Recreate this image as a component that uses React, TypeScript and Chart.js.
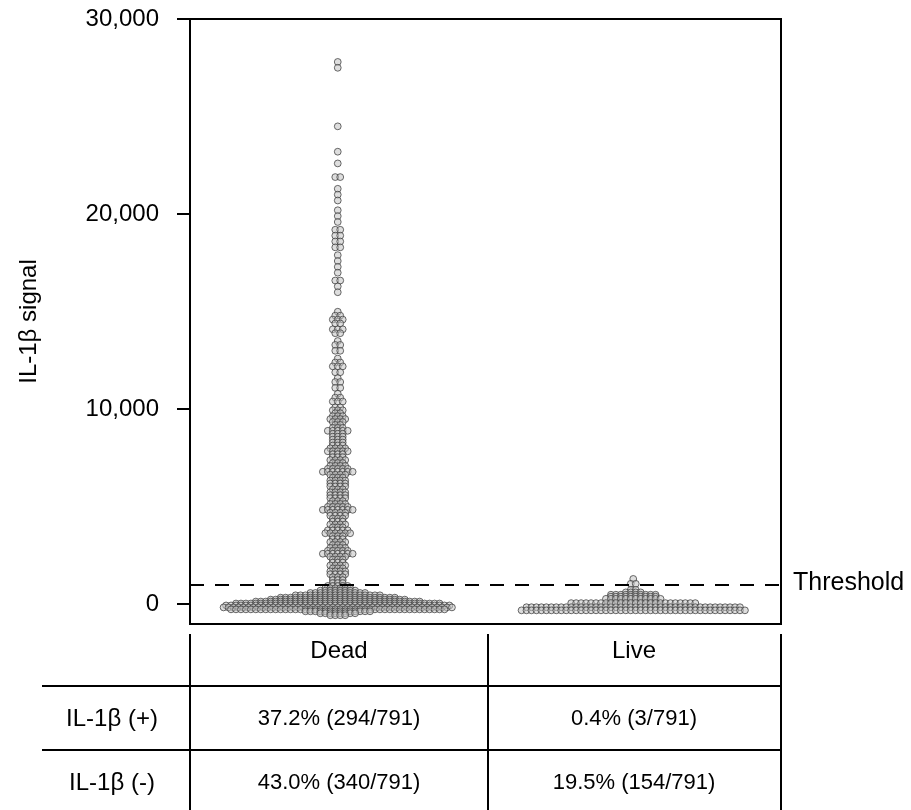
import React, { useEffect, useRef } from "react";
import { Chart, registerables } from "chart.js";

Chart.register(...registerables);

// ---------------- data ----------------
const categories = ["Dead", "Live"];
const yTicks = [0, 10000, 20000, 30000];
const yMin = -1000;
const yMax = 30000;
const threshold = 1000;
const thresholdLabel = "Threshold";
const yTitle = "IL-1β signal";

// Dead cells: signal level and number of cells at that level
const deadLevels = [
  27800, 27500, 24500, 23200, 22600, 21900, 21300, 21000, 20700, 20200, 19900, 19600,
  19200, 18900, 18600, 18300, 17900, 17600, 17300, 17000, 16600, 16300, 16000,
  15000, 14800, 14600, 14400, 14100, 13900, 13500, 13300, 13000, 12600, 12400, 12200,
  11900, 11600, 11400, 11100, 10800, 10600, 10400, 10100,
  9950, 9800, 9650, 9500, 9350, 9200, 9050, 8900, 8750, 8600,
  8450, 8300, 8150, 8000, 7850, 7700, 7550, 7400, 7250, 7100,
  6950, 6800, 6650, 6500, 6350, 6200, 6050, 5900, 5750, 5600,
  5450, 5300, 5150, 5000, 4850, 4700, 4550, 4400, 4250, 4100,
  3950, 3800, 3650, 3500, 3350, 3200, 3050, 2900, 2750, 2600,
  2450, 2300, 2150, 2000, 1850, 1700, 1550, 1400, 1250, 1100,
  950, 830, 710, 590, 470, 350, 250, 150, 50, -50, -150, -250, -350, -450, -550,
];
const deadCounts = [
  1, 1, 1, 1, 1, 2, 1, 1, 1, 1, 1, 1,
  2, 2, 2, 2, 1, 1, 1, 1, 2, 1, 1,
  1, 2, 3, 2, 3, 2, 1, 2, 2, 1, 2, 3,
  2, 1, 2, 2, 1, 2, 3, 2,
  3, 2, 3, 4, 3, 2, 3, 5, 3, 3,
  3, 3, 3, 4, 5, 3, 3, 4, 3, 4,
  5, 7, 4, 3, 4, 4, 4, 3, 4, 4,
  4, 3, 4, 5, 7, 4, 4, 3, 3, 4,
  3, 5, 6, 3, 3, 4, 3, 4, 5, 7,
  4, 3, 3, 4, 3, 4, 4, 3, 3, 3,
  5, 6, 8, 12, 18, 24, 28, 34, 42, 46, 47, 44, 14, 8, 4,
];

// Live cells: signal level and number of cells at that level
const liveLevels = [1310, 1060, 750, 620, 500, 400, 290, 70, -140, -300];
const liveCounts = [1, 2, 2, 4, 10, 10, 12, 26, 44, 46];

// table
const tableRowLabels = ["IL-1β (+)", "IL-1β (-)"];
const totalCells = 791;
const positiveCounts = [294, 3]; // Dead, Live
const negativeCounts = [340, 154]; // Dead, Live

// ---------------- helpers ----------------
const FONT = '"Liberation Sans", Arial, Helvetica, sans-serif';
const STEP = 0.0168; // horizontal spacing of swarm points (x units)

function buildSwarm(levels: number[], counts: number[], center: number) {
  const pts: { x: number; y: number }[] = [];
  levels.forEach((v, i) => {
    const n = counts[i];
    for (let j = 0; j < n; j++) {
      pts.push({ x: center + (j - (n - 1) / 2) * STEP, y: v });
    }
  });
  return pts;
}

function cellText(count: number) {
  return `${((count / totalCells) * 100).toFixed(1)}% (${count}/${totalCells})`;
}

const framePlugin = {
  id: "frameAndThreshold",
  afterDatasetsDraw(chart: any) {
    const { ctx, chartArea, scales } = chart;
    const y = scales.y.getPixelForValue(threshold);
    ctx.save();
    ctx.strokeStyle = "#000";
    ctx.lineWidth = 2;
    ctx.setLineDash([14, 11]);
    ctx.beginPath();
    ctx.moveTo(chartArea.left, y);
    ctx.lineTo(chartArea.right, y);
    ctx.stroke();
    ctx.setLineDash([]);
    ctx.strokeRect(chartArea.left, chartArea.top, chartArea.right - chartArea.left, chartArea.bottom - chartArea.top);
    ctx.fillStyle = "#000";
    ctx.font = `25px ${FONT}`;
    ctx.textAlign = "left";
    ctx.textBaseline = "middle";
    ctx.fillText(thresholdLabel, chartArea.right + 12, y - 2);
    ctx.restore();
  },
};

export default function App() {
  const ref = useRef<HTMLCanvasElement | null>(null);

  useEffect(() => {
    if (!ref.current) return;
    const pointStyle = {
      pointRadius: 3.4,
      pointBackgroundColor: "rgba(195,195,195,0.55)",
      pointBorderColor: "rgba(60,60,60,0.85)",
      pointBorderWidth: 0.9,
      showLine: false,
    };
    const chart = new Chart(ref.current, {
      type: "scatter",
      data: {
        datasets: [
          { label: categories[0], data: buildSwarm(deadLevels, deadCounts, 0), ...pointStyle },
          { label: categories[1], data: buildSwarm(liveLevels, liveCounts, 1), ...pointStyle },
        ],
      },
      options: {
        responsive: false,
        animation: false,
        layout: { padding: { top: 19, right: 130, bottom: 186, left: 0 } },
        plugins: { legend: { display: false }, tooltip: { enabled: false } },
        scales: {
          x: { type: "linear", min: -0.5, max: 1.5, display: false },
          y: {
            type: "linear",
            min: yMin,
            max: yMax,
            afterBuildTicks: (s: any) => {
              s.ticks = yTicks.map((v) => ({ value: v }));
            },
            afterFit: (s: any) => {
              s.width = 190;
              s.paddingTop = 0;
              s.paddingBottom = 0;
            },
            ticks: {
              color: "#000",
              padding: 18,
              font: { family: FONT, size: 24 },
              callback: (v: any) => Number(v).toLocaleString("en-US"),
            },
            grid: { drawOnChartArea: false, drawTicks: true, tickLength: 13, color: "#000", lineWidth: 2 },
            border: { display: true, color: "#000", width: 2 },
            title: {
              display: true,
              text: yTitle,
              color: "#000",
              font: { family: FONT, size: 24 },
              padding: { top: 15, bottom: 0 },
            },
          },
        },
      },
      plugins: [framePlugin],
    });
    return () => chart.destroy();
  }, []);

  const textStyle = (x: number, y: number, size: number): React.CSSProperties => ({
    position: "absolute",
    left: x,
    top: y,
    transform: "translate(-50%, -50%)",
    fontFamily: FONT,
    fontSize: size,
    lineHeight: 1,
    color: "#000",
    whiteSpace: "nowrap",
  });
  const line = (x: number, y: number, w: number, h: number): React.CSSProperties => ({
    position: "absolute",
    left: x,
    top: y,
    width: w,
    height: h,
    background: "#000",
  });

  const colX = [339, 634];
  const rowY = [718, 782];

  return (
    <div style={{ position: "absolute", left: 0, top: 0, width: 911, height: 810, background: "#fff", overflow: "hidden" }}>
      <canvas ref={ref} width={911} height={810} style={{ position: "absolute", left: 0, top: 0 }} />
      {/* table grid */}
      <div style={line(189, 634, 2, 176)} />
      <div style={line(487, 634, 2, 176)} />
      <div style={line(780, 634, 2, 176)} />
      <div style={line(42, 685, 740, 2)} />
      <div style={line(42, 749, 740, 2)} />
      {/* header */}
      {categories.map((c, i) => (
        <div key={c} style={textStyle(colX[i], 650, 24)}>{c}</div>
      ))}
      {/* rows */}
      {tableRowLabels.map((r, i) => (
        <div key={r} style={textStyle(112, rowY[i], 24)}>{r}</div>
      ))}
      {positiveCounts.map((c, i) => (
        <div key={"p" + i} style={textStyle(colX[i], rowY[0], 22)}>{cellText(c)}</div>
      ))}
      {negativeCounts.map((c, i) => (
        <div key={"n" + i} style={textStyle(colX[i], rowY[1], 22)}>{cellText(c)}</div>
      ))}
    </div>
  );
}
